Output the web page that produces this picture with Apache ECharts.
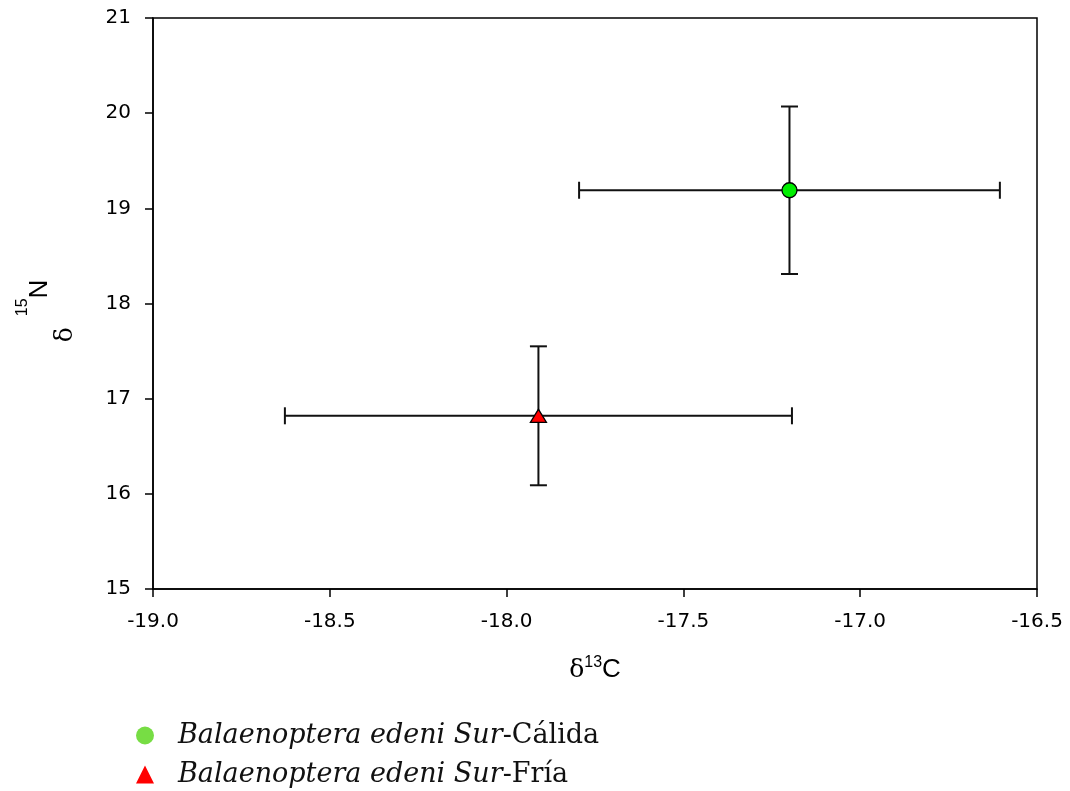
<!DOCTYPE html>
<html>
<head>
<meta charset="utf-8">
<script src="https://cdn.jsdelivr.net/npm/echarts@6/dist/echarts.min.js"></script>
<style>
  html, body { margin: 0; padding: 0; background: #ffffff; }
  #chart { width: 1070px; height: 791px; }
</style>
</head>
<body>
<div id="chart"></div>
<script>
// Group means and standard deviations of stable isotope values
const groups = ['Balaenoptera edeni Sur-Cálida', 'Balaenoptera edeni Sur-Fría'];
const d13C = [-17.20, -17.91];
const d13CSd = [0.595, 0.717];
const d15N = [19.19, 16.82];
const d15NSd = [0.88, 0.73];

// Axis tick values
const xTicks = [-19.0, -18.5, -18.0, -17.5, -17.0, -16.5];
const yTicks = [15, 16, 17, 18, 19, 20, 21];

const chart = echarts.init(document.getElementById('chart'));

const labelFont = 'DejaVu Sans';
const axisStyle = { lineStyle: { color: '#000', width: 1.5 } };

// Error bars: horizontal (δ13C) and vertical (δ15N) whiskers with caps
function renderErrorBar(params, api) {
  const x = api.value(0), y = api.value(1);
  const sx = api.value(2), sy = api.value(3);
  const L = api.coord([x - sx, y]);
  const R = api.coord([x + sx, y]);
  const T = api.coord([x, y + sy]);
  const B = api.coord([x, y - sy]);
  const c = 8.5;
  const style = { stroke: '#111', lineWidth: 2, fill: null };
  const seg = (x1, y1, x2, y2) => ({ type: 'line', shape: { x1, y1, x2, y2 }, style });
  return {
    type: 'group',
    children: [
      seg(L[0], L[1], R[0], R[1]),
      seg(L[0], L[1] - c, L[0], L[1] + c),
      seg(R[0], R[1] - c, R[0], R[1] + c),
      seg(T[0], T[1], B[0], B[1]),
      seg(T[0] - c, T[1], T[0] + c, T[1]),
      seg(B[0] - c, B[1], B[0] + c, B[1])
    ]
  };
}

const markerStyles = [
  { symbol: 'circle', symbolSize: 15, color: '#00ee00' },
  { symbol: 'triangle', symbolSize: [16, 13], color: '#ff0000' }
];

const series = [
  {
    type: 'custom',
    renderItem: renderErrorBar,
    encode: { x: 0, y: 1 },
    data: groups.map((g, i) => [d13C[i], d15N[i], d13CSd[i], d15NSd[i]]),
    z: 1,
    silent: true
  }
].concat(groups.map((g, i) => ({
  name: g,
  type: 'scatter',
  symbol: markerStyles[i].symbol,
  symbolSize: markerStyles[i].symbolSize,
  itemStyle: { color: markerStyles[i].color, borderColor: '#000', borderWidth: 1.3, opacity: 1 },
  data: [[d13C[i], d15N[i]]],
  z: 3
})));

chart.setOption({
  animation: false,
  backgroundColor: '#ffffff',
  grid: {
    left: 153, right: 33, top: 18, bottom: 202,
    containLabel: false,
    outerBoundsMode: 'none',
    show: true, borderColor: '#000', borderWidth: 1.5, backgroundColor: 'transparent'
  },
  xAxis: {
    type: 'value',
    min: xTicks[0],
    max: xTicks[xTicks.length - 1],
    interval: xTicks[1] - xTicks[0],
    axisLine: axisStyle,
    axisTick: { show: true, inside: false, length: 8, lineStyle: { color: '#000', width: 1.5 } },
    splitLine: { show: false },
    axisLabel: {
      color: '#000', fontFamily: labelFont, fontSize: 20, margin: 23,
      formatter: v => v.toFixed(1)
    },
    name: '{d|δ}{s|13}{c|C}',
    nameLocation: 'middle',
    nameGap: 66,
    nameTextStyle: {
      rich: {
        d: { fontFamily: 'DejaVu Serif', fontSize: 25, color: '#000', lineHeight: 30, verticalAlign: 'middle' },
        s: { fontFamily: 'Liberation Sans', fontSize: 16, color: '#000', lineHeight: 30, verticalAlign: 'top' },
        c: { fontFamily: 'Liberation Sans', fontSize: 26, color: '#000', lineHeight: 30, verticalAlign: 'middle' }
      }
    }
  },
  yAxis: {
    type: 'value',
    min: yTicks[0],
    max: yTicks[yTicks.length - 1],
    interval: yTicks[1] - yTicks[0],
    axisLine: axisStyle,
    axisTick: { show: true, inside: false, length: 8, lineStyle: { color: '#000', width: 1.5 } },
    splitLine: { show: false },
    axisLabel: { color: '#000', fontFamily: labelFont, fontSize: 20, margin: 22 },
    name: '{d|δ}{s|15}{n|N}',
    nameLocation: 'middle',
    nameRotate: 90,
    nameGap: 100,
    nameTextStyle: {
      rich: {
        d: { fontFamily: 'DejaVu Serif', fontSize: 25, color: '#000', lineHeight: 25, verticalAlign: 'middle', padding: [50, 11, 0, 0] },
        s: { fontFamily: 'Liberation Sans', fontSize: 16, color: '#000', lineHeight: 16, verticalAlign: 'middle', padding: [0, 0, 35, 0] },
        n: { fontFamily: 'Liberation Sans', fontSize: 26, color: '#000', lineHeight: 26, verticalAlign: 'middle', padding: [0, 15, 0, 0] }
      }
    }
  },
  legend: {
    orient: 'vertical',
    left: 136,
    top: 722,
    padding: 0,
    itemWidth: 18,
    itemHeight: 18,
    itemGap: 12,
    selectedMode: false,
    data: [
      { name: groups[0], icon: 'circle', itemStyle: { color: '#77dd44', borderWidth: 0 } },
      { name: groups[1], icon: 'triangle', itemStyle: { color: '#ff0000', borderWidth: 0 } }
    ],
    formatter: name => {
      const k = name.lastIndexOf('-');
      return '{i|' + name.slice(0, k) + '}{n|' + name.slice(k) + '}';
    },
    textStyle: {
      rich: {
        i: { fontFamily: 'DejaVu Serif', fontStyle: 'italic', fontSize: 27, color: '#111', lineHeight: 28, padding: [0, 0, 0, 19] },
        n: { fontFamily: 'DejaVu Serif', fontSize: 27, color: '#111', lineHeight: 28 }
      }
    }
  },
  series: series
});
</script>
</body>
</html>
